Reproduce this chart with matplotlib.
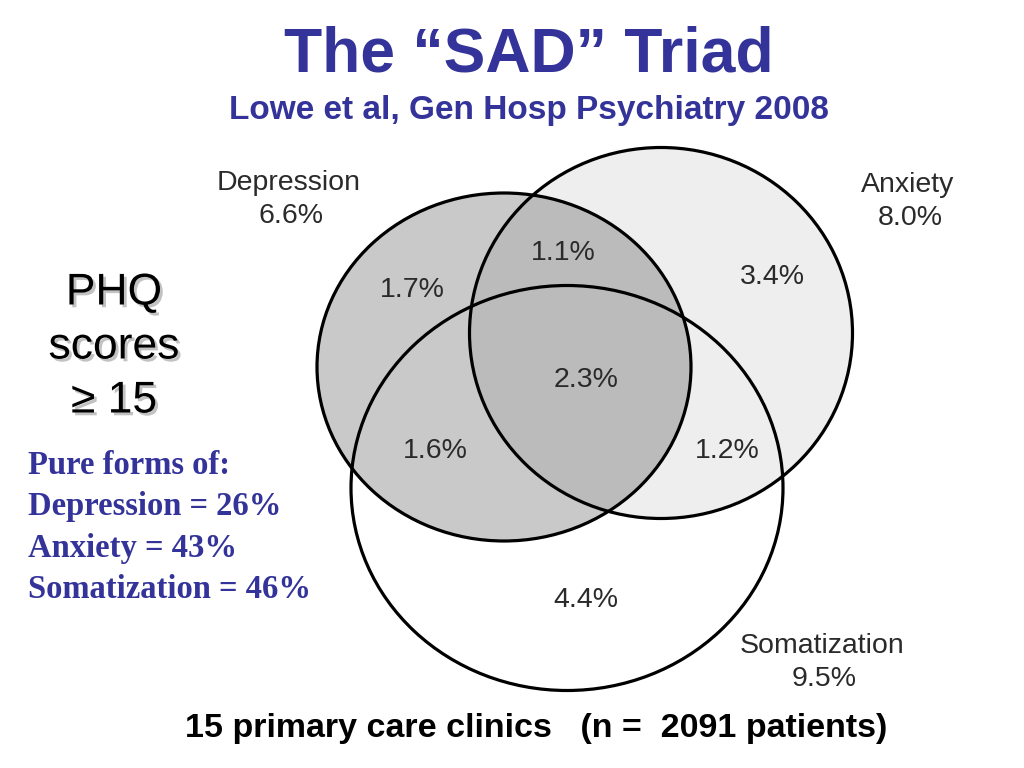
import matplotlib.pyplot as plt
from matplotlib.patches import Ellipse
import matplotlib.patheffects as pe

# ---------------- data ----------------
set_names = ["Depression", "Anxiety", "Somatization"]
set_totals = [6.6, 8.0, 9.5]
# regions: D only, D&A, A only, D&A&S, D&S, A&S, S only
region_values = [1.7, 1.1, 3.4, 2.3, 1.6, 1.2, 4.4]
pure_names = ["Depression", "Anxiety", "Somatization"]
pure_pct = [26, 43, 46]
n_clinics = 15
n_patients = 2091
phq_cut = 15

# ---------------- layout (pixel coords of the slide) ----------------
circle_xy = [(504, 367), (661, 333), (567, 488)]
circle_wh = [(374, 348), (383, 371), (432, 405)]
circle_face = ["#000000", "#eeeeee", "none"]
circle_alpha = [0.21, 1.0, 1.0]
circle_z = [2, 1, 1]
set_label_xy = [(289, 183), (908, 185), (822, 646)]
region_xy = [(412, 290), (563, 253), (772, 277), (586, 380),
             (435, 451), (727, 451), (586, 600)]

blue = "#333399"
grey_txt = "#2a2a2a"

fig = plt.figure(figsize=(10.24, 7.68), dpi=100)
ax = fig.add_axes([0, 0, 1, 1])
ax.set_xlim(0, 1024)
ax.set_ylim(768, 0)
ax.axis("off")

# fills then outlines
for (x, y), (w, h), fc, a, z in zip(circle_xy, circle_wh, circle_face, circle_alpha, circle_z):
    if fc != "none":
        ax.add_patch(Ellipse((x, y), w, h, facecolor=fc, alpha=a, edgecolor="none", zorder=z))
for (x, y), (w, h) in zip(circle_xy, circle_wh):
    ax.add_patch(Ellipse((x, y), w, h, facecolor="none", edgecolor="black", lw=2.3, zorder=3))

for name, tot, (x, y) in zip(set_names, set_totals, set_label_xy):
    ax.text(x, y, name, ha="center", va="center", fontsize=20.5, color=grey_txt,
            family="Liberation Sans", zorder=4)
    ax.text(x + 2, y + 33, "%.1f%%" % tot, ha="center", va="center", fontsize=20.5,
            color=grey_txt, family="Liberation Sans", zorder=4)

for v, (x, y) in zip(region_values, region_xy):
    ax.text(x, y, "%.1f%%" % v, ha="center", va="center", fontsize=20.5, color=grey_txt,
            family="Liberation Sans", zorder=4)

# titles
ax.text(529, 55, "The \u201cSAD\u201d Triad", ha="center", va="center", fontsize=45,
        fontweight="bold", color=blue, family="Liberation Sans")
ax.text(529, 111, "Lowe et al, Gen Hosp Psychiatry 2008", ha="center", va="center",
        fontsize=24, fontweight="bold", color=blue, family="Liberation Sans")

# left side
shadow = [pe.withSimplePatchShadow(offset=(2, -2), shadow_rgbFace="#9a9a9a", alpha=0.6)]
for i, s in enumerate(["PHQ", "scores", "\u2265 %d" % phq_cut]):
    ax.text(114, 293 + 54 * i, s, ha="center", va="center", fontsize=32,
            color="black", family="Liberation Sans", path_effects=shadow)

pure_lines = ["Pure forms of:"] + ["%s = %d%%" % (n, p) for n, p in zip(pure_names, pure_pct)]
for i, s in enumerate(pure_lines):
    ax.text(28, 466 + 41 * i, s, ha="left", va="center", fontsize=23.5, fontweight="bold",
            color=blue, family="Liberation Serif")

ax.text(536, 728, "%d primary care clinics   (n =  %d patients)" % (n_clinics, n_patients),
        ha="center", va="center", fontsize=24.5, fontweight="bold", color="black",
        family="Liberation Sans")

plt.savefig("out.png", dpi=100)
